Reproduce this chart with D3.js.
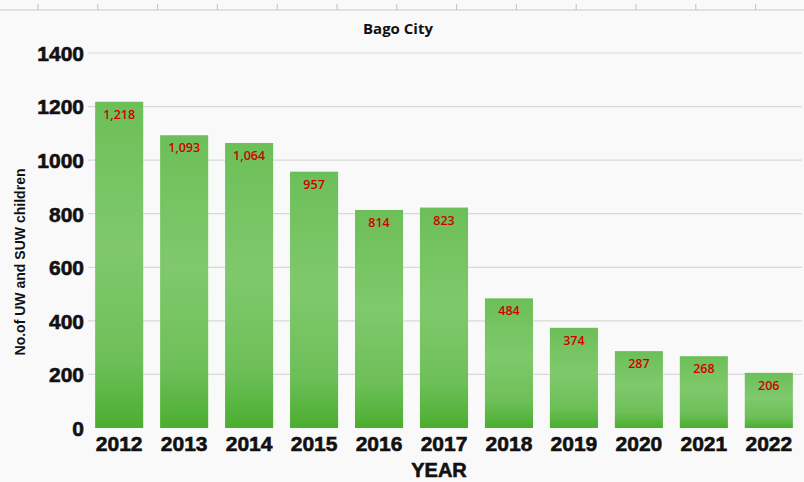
<!DOCTYPE html>
<html><head><meta charset="utf-8">
<script src="https://cdn.jsdelivr.net/npm/d3@7"></script>
<style>
body{margin:0;background:#f9f9f9;}
svg{display:block;}
</style></head>
<body>
<svg id="c" width="804" height="482"></svg>
<script>
const years = ["2012","2013","2014","2015","2016","2017","2018","2019","2020","2021","2022"];
const values = [1218,1093,1064,957,814,823,484,374,287,268,206];
const yTicks = [0,200,400,600,800,1000,1200,1400];
const title = "Bago City";
const xTitle = "YEAR";
const yTitle = "No.of UW and SUW children";

const svg = d3.select("#c");
const W = 804, H = 482;
svg.append("rect").attr("width",W).attr("height",H).attr("fill","#f9f9f9");

const defs = svg.append("defs");
const g = defs.append("linearGradient").attr("id","bg").attr("x1",0).attr("y1",0).attr("x2",0).attr("y2",1);
g.append("stop").attr("offset","0%").attr("stop-color","#6cbf58");
g.append("stop").attr("offset","45%").attr("stop-color","#7fc96c");
g.append("stop").attr("offset","80%").attr("stop-color","#6dbf58");
g.append("stop").attr("offset","100%").attr("stop-color","#4aae2e");

const x = d3.scaleBand().domain(years).range([88,800]).paddingInner(0.26).paddingOuter(0.11);
const y = d3.scaleLinear().domain([0,1400]).range([428,53]);

const boldFont = "'Liberation Sans',Arial,sans-serif";

// decorative top line with ticks
const topScale = d3.scaleLinear().domain([0,13]).range([38, 38+59.8*13]);
svg.append("line").attr("x1",0).attr("x2",W).attr("y1",10).attr("y2",10).attr("stroke","#c8c8c8").attr("stroke-width",1);
svg.append("g").selectAll("line").data(d3.range(13)).join("line")
  .attr("x1",d=>topScale(d)).attr("x2",d=>topScale(d)).attr("y1",4).attr("y2",10)
  .attr("stroke","#c0c0c0").attr("stroke-width",1);

// gridlines
svg.append("g").selectAll("line").data(yTicks.slice(1)).join("line")
  .attr("x1",88).attr("x2",802).attr("y1",d=>y(d)).attr("y2",d=>y(d))
  .attr("stroke","#d9d9d9").attr("stroke-width",1.2);

// bars
svg.append("g").selectAll("rect").data(values).join("rect")
  .attr("x",(d,i)=>x(years[i])).attr("width",x.bandwidth())
  .attr("y",d=>y(d)).attr("height",d=>y(0)-y(d))
  .attr("fill","url(#bg)");

// value labels
svg.append("g").selectAll("text").data(values).join("text")
  .attr("x",(d,i)=>x(years[i])+x.bandwidth()/2).attr("y",d=>y(d)+17)
  .attr("text-anchor","middle").attr("fill","#d00000")
  .attr("font-family","'Open Sans', sans-serif").attr("font-size",12.5).attr("font-weight","600")
  .text(d=>d3.format(",")(d));

// y axis
const yAxis = d3.axisLeft(y).tickValues(yTicks).tickSize(0).tickPadding(0).tickFormat(d3.format("d"));
const ya = svg.append("g").attr("transform","translate(84,0)").call(yAxis);
ya.select(".domain").remove();
ya.selectAll("text").attr("font-family",boldFont)
  .attr("font-size",21).attr("font-weight","bold").attr("fill","#111")
  .attr("stroke","#111").attr("stroke-width",0.6).attr("dy","0.35em");

// x axis
const xAxis = d3.axisBottom(x).tickSize(0).tickPadding(0);
const xa = svg.append("g").attr("transform","translate(0,435)").call(xAxis);
xa.select(".domain").remove();
xa.selectAll("text").attr("font-family",boldFont)
  .attr("font-size",21).attr("font-weight","bold").attr("fill","#111")
  .attr("stroke","#111").attr("stroke-width",0.6).attr("dy","0.75em");

// titles
svg.append("text").attr("x",398).attr("y",34).attr("text-anchor","middle")
  .attr("font-family","'Open Sans',sans-serif").attr("font-weight","bold").attr("font-size",15).attr("fill","#111").text(title);
svg.append("text").attr("x",439).attr("y",477).attr("text-anchor","middle")
  .attr("font-family",boldFont).attr("font-weight","bold").attr("font-size",20).attr("fill","#111")
  .attr("stroke","#111").attr("stroke-width",0.6).text(xTitle);
svg.append("text").attr("transform","translate(25,262) rotate(-90)").attr("text-anchor","middle")
  .attr("font-family",boldFont).attr("font-weight","bold").attr("font-size",14).attr("fill","#111")
  .attr("textLength",187).attr("lengthAdjust","spacingAndGlyphs").text(yTitle);
</script>
</body></html>
